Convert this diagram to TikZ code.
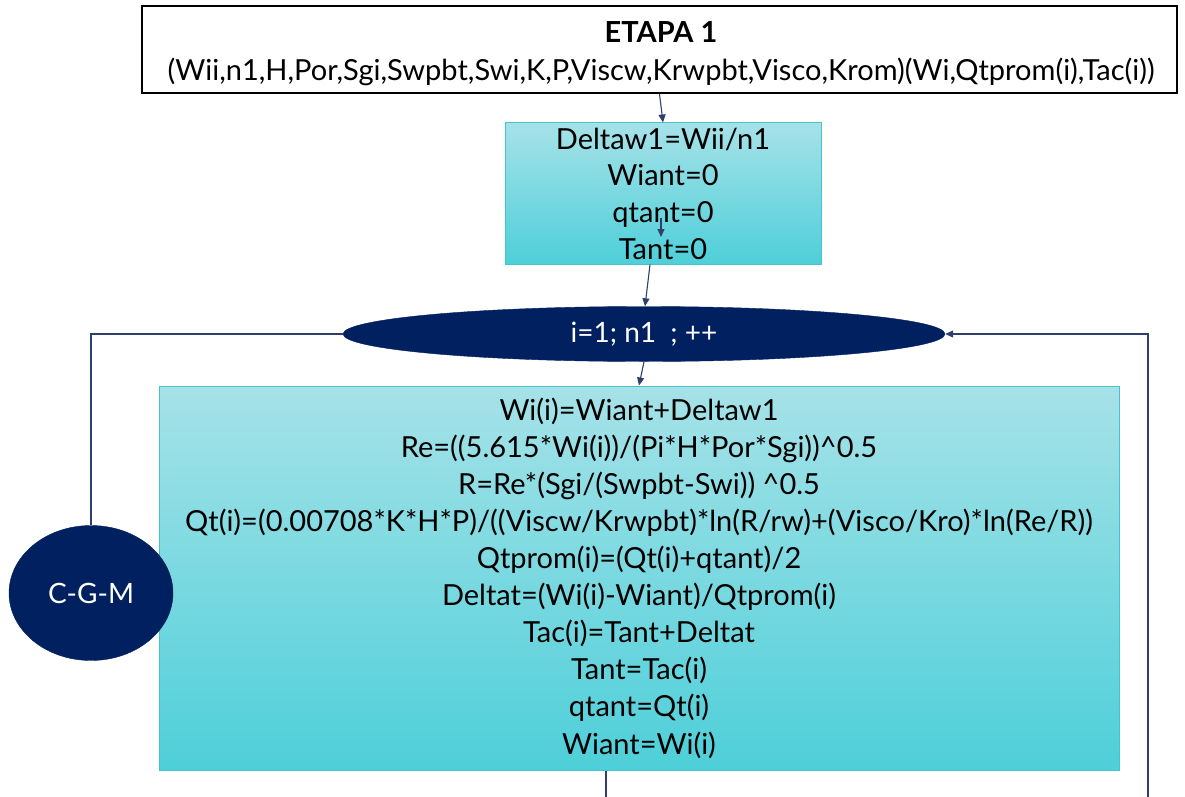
\documentclass[tikz,border=0pt]{standalone}
\usepackage{fontspec}
\setmainfont{Lato}
\usetikzlibrary{shapes.geometric,arrows.meta,calc}
\definecolor{navy}{HTML}{002060}
\definecolor{cyantop}{HTML}{A6E2E8}
\definecolor{cyanbot}{HTML}{4ECFD9}
\definecolor{cyanedge}{HTML}{46C3CC}
\definecolor{linkc}{HTML}{2E3F6E}
\begin{document}
\begin{tikzpicture}[x=1pt,y=-1pt,
  hdrbox/.style={draw=black,line width=2pt,fill=white,minimum width=1035pt,minimum height=87pt,inner sep=0pt},
  hdrtext/.style={inner sep=0pt,align=center,font=\fontsize{29}{38}\selectfont},
  gradbox/.style={draw=cyanedge,line width=1pt,top color=cyantop,bottom color=cyanbot,inner sep=0pt,align=center},
  darkoval/.style={ellipse,fill=navy,draw=navy,text=white,inner sep=0pt},
  link/.style={draw=linkc,line width=1.1pt},
  arr/.style={link,-{Triangle[length=8pt,width=7pt]}}]
\useasboundingbox (0,0) rectangle (1185,797);
\node[hdrbox] (top) at (659.5,49.5) {};
\node[hdrtext] (toptext) at (661,54) {\textbf{ETAPA 1}\\(Wii,n1,H,Por,Sgi,Swpbt,Swi,K,P,Viscw,Krwpbt,Visco,Krom)(Wi,Qtprom(i),Tac(i))};
\node[gradbox,minimum width=316pt,minimum height=141pt,font=\fontsize{29}{36.7}\selectfont] (init) at (663,193.5) {Deltaw1=Wii/n1\\Wiant=0\\qtant=0\\Tant=0};
\node[darkoval,minimum width=602pt,minimum height=55pt,font=\fontsize{28}{30}\selectfont] (loop) at (644,334) {i=1; n1 \ ; ++};
\node[gradbox,minimum width=960pt,minimum height=384pt,font=\fontsize{29}{37.1}\selectfont] (calc) at (639,578) {Wi(i)=Wiant+Deltaw1\\
Re=((5.615*Wi(i))/(Pi*H*Por*Sgi))\^{}0.5\\
R=Re*(Sgi/(Swpbt-Swi)) \^{}0.5\\
Qt(i)=(0.00708*K*H*P)/((Viscw/Krwpbt)*ln(R/rw)+(Visco/Kro)*ln(Re/R))\\
Qtprom(i)=(Qt(i)+qtant)/2\\
Deltat=(Wi(i)-Wiant)/Qtprom(i)\\
Tac(i)=Tant+Deltat\\
Tant=Tac(i)\\
qtant=Qt(i)\\
Wiant=Wi(i)};
\node[darkoval,minimum width=164pt,minimum height=135pt,font=\fontsize{28}{30}\selectfont] (cgm) at (91,593) {C-G-M};
\coordinate (ina) at (661,218);
\coordinate (inb) at (661,237);
\coordinate (rb) at (1148,797);
\coordinate (bb) at (606,797);
\draw[arr] (top.south) -- (init.north);
\draw[arr] (ina) -- (inb);
\draw[arr] ($(init.south)+(-13,0)$) -- ($(loop.north)+(1,0)$);
\draw[arr] (loop.south) -- (calc.north);
\draw[link] (cgm.north) |- (loop.west);
\draw[arr] (rb) |- (loop.east);
\draw[link] (calc.south -| bb) -- (bb);
\end{tikzpicture}
\end{document}
